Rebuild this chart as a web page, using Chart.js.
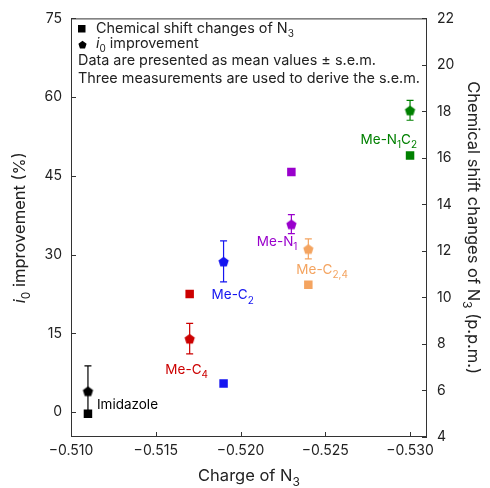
<!DOCTYPE html>
<html>
<head>
<meta charset="utf-8">
<script src="https://cdn.jsdelivr.net/npm/chart.js@4.4.1/dist/chart.umd.min.js"></script>
<style>
html,body{margin:0;padding:0;background:#fff;}
#wrap{width:490px;height:488px;position:relative;}
</style>
</head>
<body>
<div id="wrap"><canvas id="c" width="490" height="488"></canvas></div>
<script>
// ---- data ----
const compounds = ['Imidazole', 'Me-C4', 'Me-C2', 'Me-N1', 'Me-C2,4', 'Me-N1C2'];
const chargeN3 = [-0.511, -0.517, -0.519, -0.523, -0.524, -0.530];
const shiftPPM = [5.0, 10.15, 6.3, 15.4, 10.55, 16.1];
const i0Improvement = [4.0, 14.0, 28.7, 35.8, 31.1, 57.5];
const i0Sem = [4.8, 2.9, 3.9, 1.8, 1.9, 1.9];
const xTicks = [-0.510, -0.515, -0.520, -0.525, -0.530];
const yTicks = [0, 15, 30, 45, 60, 75];
const y2Ticks = [4, 6, 8, 10, 12, 14, 16, 18, 20, 22];

// ---- styles ----
const colors = ['#000000', '#cc0000', '#1515f0', '#9900cc', '#f4a460', '#008000'];
// rich label segments: [text, type] type n=normal s=subscript i=italic
const labelSegs = [
  [['Imidazole','n']],
  [['Me-C','n'],['4','s']],
  [['Me-C','n'],['2','s']],
  [['Me-N','n'],['1','s']],
  [['Me-C','n'],['2,4','s']],
  [['Me-N','n'],['1','s'],['C','n'],['2','s']]
];
// label anchor offsets relative to the point: [dx, dy, align, ref]
const labelOffsets = [
  [9, -9, 'left', 'square'],
  [-3, 31, 'center', 'pent'],
  [-12, 34, 'left', 'pent'],
  [6, 18, 'right', 'pent'],
  [-12, 21, 'left', 'pent'],
  [7, 30, 'right', 'pent']
];
const FONT = 'Inter, "Noto Sans", sans-serif';
const TXT = '#222222';

function pentagonCanvas(color, r) {
  const s = Math.ceil(r * 2 + 2);
  const cv = document.createElement('canvas');
  cv.width = s; cv.height = s;
  const g = cv.getContext('2d');
  g.fillStyle = color;
  g.beginPath();
  for (let k = 0; k < 5; k++) {
    const a = -Math.PI / 2 + k * 2 * Math.PI / 5;
    const px = s / 2 + r * Math.cos(a), py = s / 2 + 0.6 + r * Math.sin(a);
    if (k === 0) g.moveTo(px, py); else g.lineTo(px, py);
  }
  g.closePath(); g.fill();
  return cv;
}
const pentStyles = colors.map(c => pentagonCanvas(c, 5.4));

function segFont(ty, size) {
  return (ty === 'i' ? 'italic ' : '') + (ty === 's' ? Math.round(size * 0.72) : size) + 'px ' + FONT;
}
function richWidth(ctx, segs, size) {
  let w = 0;
  for (const [t, ty] of segs) { ctx.font = segFont(ty, size); w += ctx.measureText(t).width; }
  return w;
}
function drawRich(ctx, segs, x, y, align, size, color) {
  const w = richWidth(ctx, segs, size);
  let cx = align === 'center' ? x - w / 2 : (align === 'right' ? x - w : x);
  ctx.fillStyle = color;
  ctx.textBaseline = 'middle';
  ctx.textAlign = 'left';
  for (const [t, ty] of segs) {
    ctx.font = segFont(ty, size);
    const dy = ty === 's' ? size * 0.38 : 0;
    ctx.fillText(t, cx, y + dy);
    cx += ctx.measureText(t).width;
  }
}

const decorPlugin = {
  id: 'decor',
  beforeDatasetsDraw(chart) {
    const ctx = chart.ctx;
    const xs = chart.scales.x, ys = chart.scales.y;
    ctx.save();
    ctx.lineWidth = 1.2;
    for (let i = 0; i < chargeN3.length; i++) {
      const px = xs.getPixelForValue(chargeN3[i]);
      const top = ys.getPixelForValue(i0Improvement[i] + i0Sem[i]);
      const bot = ys.getPixelForValue(i0Improvement[i] - i0Sem[i]);
      ctx.strokeStyle = colors[i];
      ctx.beginPath();
      ctx.moveTo(px, top); ctx.lineTo(px, bot);
      ctx.moveTo(px - 3.5, top); ctx.lineTo(px + 3.5, top);
      ctx.moveTo(px - 3.5, bot); ctx.lineTo(px + 3.5, bot);
      ctx.stroke();
    }
    ctx.restore();
  },
  afterDraw(chart) {
    const ctx = chart.ctx;
    const a = chart.chartArea;
    const xs = chart.scales.x, ys = chart.scales.y, y2 = chart.scales.y2;
    ctx.save();
    // frame
    ctx.strokeStyle = '#333';
    ctx.lineWidth = 1;
    ctx.strokeRect(a.left + 0.5, a.top + 0.5, a.right - a.left - 1, a.bottom - a.top - 1);
    // inward ticks
    ctx.beginPath();
    const L = 5;
    for (const v of xTicks) {
      const p = Math.round(xs.getPixelForValue(v)) + 0.5;
      ctx.moveTo(p, a.bottom); ctx.lineTo(p, a.bottom - L);
    }
    for (const v of yTicks) {
      const p = Math.round(ys.getPixelForValue(v)) + 0.5;
      ctx.moveTo(a.left, p); ctx.lineTo(a.left + L, p);
    }
    for (const v of y2Ticks) {
      const p = Math.round(y2.getPixelForValue(v)) + 0.5;
      ctx.moveTo(a.right, p); ctx.lineTo(a.right - L, p);
    }
    ctx.stroke();

    // point labels
    for (let i = 0; i < compounds.length; i++) {
      const [dx, dy, al, ref] = labelOffsets[i];
      const px = xs.getPixelForValue(chargeN3[i]);
      const py = ref === 'square' ? y2.getPixelForValue(shiftPPM[i]) : ys.getPixelForValue(i0Improvement[i]);
      drawRich(ctx, labelSegs[i], px + dx, py + dy, al, 13.5, colors[i]);
    }

    // legend
    ctx.fillStyle = '#000';
    ctx.fillRect(78, 25, 7.5, 7.5);
    ctx.drawImage(pentagonCanvas('#000', 4.3), 77, 39);
    drawRich(ctx, [['Chemical shift changes of N','n'],['3','s']], 96, 28.5, 'left', 14.4, TXT);
    drawRich(ctx, [['i','i'],['0','s'],[' improvement','n']], 96, 43.5, 'left', 14.4, TXT);
    drawRich(ctx, [['Data are presented as mean values \u00b1 s.e.m.','n']], 78, 61, 'left', 14.4, TXT);
    drawRich(ctx, [['Three measurements are used to derive the s.e.m.','n']], 78, 79, 'left', 14.4, TXT);

    // axis titles
    drawRich(ctx, [['Charge of N','n'],['3','s']], (a.left + a.right) / 2, 476, 'center', 16.5, TXT);
    ctx.save();
    ctx.translate(20, (a.top + a.bottom) / 2);
    ctx.rotate(-Math.PI / 2);
    drawRich(ctx, [['i','i'],['0','s'],[' improvement (%)','n']], 0, 0, 'center', 16.5, TXT);
    ctx.restore();
    ctx.save();
    ctx.translate(473, (a.top + a.bottom) / 2);
    ctx.rotate(Math.PI / 2);
    drawRich(ctx, [['Chemical shift changes of N','n'],['3','s'],[' (p.p.m.)','n']], 0, 0, 'center', 16.5, TXT);
    ctx.restore();
    ctx.restore();
  }
};

const tickFont = { family: FONT, size: 14 };
new Chart(document.getElementById('c'), {
  type: 'scatter',
  data: {
    datasets: [
      {
        label: 'Chemical shift changes of N3',
        data: chargeN3.map((x, i) => ({ x: x, y: shiftPPM[i] })),
        yAxisID: 'y2',
        pointStyle: 'rect',
        pointRadius: 6,
        pointHoverRadius: 6,
        backgroundColor: colors,
        borderColor: colors,
        borderWidth: 0
      },
      {
        label: 'i0 improvement',
        data: chargeN3.map((x, i) => ({ x: x, y: i0Improvement[i] })),
        yAxisID: 'y',
        pointStyle: pentStyles,
        pointRadius: 6,
        backgroundColor: colors,
        borderColor: colors
      }
    ]
  },
  options: {
    responsive: false,
    animation: false,
    events: [],
    layout: { padding: { top: 17, left: 0, right: 0, bottom: 0 } },
    plugins: { legend: { display: false }, tooltip: { enabled: false } },
    scales: {
      x: {
        type: 'linear',
        min: -0.531, max: -0.510, reverse: true,
        afterBuildTicks: s => { s.ticks = xTicks.map(v => ({ value: v })); },
        afterFit: s => { s.height = 51; },
        grid: { display: false, drawTicks: false },
        border: { display: false },
        ticks: { font: tickFont, color: TXT, padding: 5, maxRotation: 0,
          callback: v => '\u2212' + Math.abs(v).toFixed(3) }
      },
      y: {
        type: 'linear', position: 'left',
        min: -4.75, max: 75,
        afterBuildTicks: s => { s.ticks = yTicks.map(v => ({ value: v })); },
        afterFit: s => { s.width = 71; },
        grid: { display: false, drawTicks: false },
        border: { display: false },
        ticks: { font: tickFont, color: TXT, padding: 9 }
      },
      y2: {
        type: 'linear', position: 'right',
        min: 4, max: 22,
        afterBuildTicks: s => { s.ticks = y2Ticks.map(v => ({ value: v })); },
        afterFit: s => { s.width = 63; },
        grid: { display: false, drawTicks: false },
        border: { display: false },
        ticks: { font: tickFont, color: TXT, padding: 10 }
      }
    }
  },
  plugins: [decorPlugin]
});
</script>
</body>
</html>
